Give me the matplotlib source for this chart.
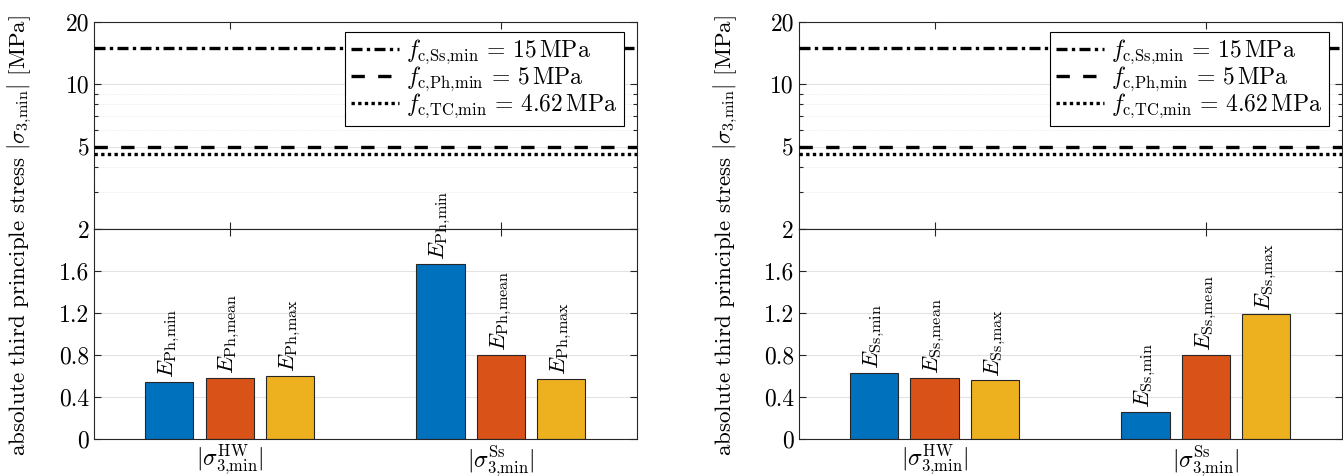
import matplotlib
matplotlib.use("Agg")
import matplotlib.pyplot as plt
from matplotlib.lines import Line2D

# bar groups (x tick labels)
group_labels = [r"$|\sigma_{3{,}\min}^{\mathrm{HW}}|$", r"$|\sigma_{3{,}\min}^{\mathrm{Ss}}|$"]

# left panel: Young's modulus of Ph varied
ph_min = [0.545, 1.67]
ph_mean = [0.585, 0.80]
ph_max = [0.60, 0.575]
ph_labels = [r"$E_{\mathrm{Ph{,}min}}$", r"$E_{\mathrm{Ph{,}mean}}$", r"$E_{\mathrm{Ph{,}max}}$"]

# right panel: Young's modulus of Ss varied
ss_min = [0.633, 0.26]
ss_mean = [0.585, 0.80]
ss_max = [0.56, 1.187]
ss_labels = [r"$E_{\mathrm{Ss{,}min}}$", r"$E_{\mathrm{Ss{,}mean}}$", r"$E_{\mathrm{Ss{,}max}}$"]

# strength limits shown in the upper (log) part
limit_values = [15, 5, 4.62]
limit_labels = [
    r"$f_{\mathrm{c{,}Ss{,}min}}\,=\,15\,\mathrm{MPa}$",
    r"$f_{\mathrm{c{,}Ph{,}min}}\,=\,5\,\mathrm{MPa}$",
    r"$f_{\mathrm{c{,}TC{,}min}}\,=\,4.62\,\mathrm{MPa}$",
]
limit_styles = [(0, (3.3, 1.3, 1.0, 1.3)), (0, (4, 4)), (0, (1, 1))]

lo_ticks = [0, 0.4, 0.8, 1.2, 1.6, 2]
lo_ticklabels = ["0", "0.4", "0.8", "1.2", "1.6", "2"]
hi_ticks = [2, 5, 10, 20]
hi_ticklabels = ["", "5", "10", "20"]

COLORS = ["#0072BD", "#D95319", "#EDB120"]
DARK = "#262626"
YLABEL = r"absolute third principle stress $|\sigma_{3{,}\min}|$ [MPa]"

plt.rcParams["font.family"] = "serif"
plt.rcParams["font.serif"] = ["cmr10"]
plt.rcParams["mathtext.fontset"] = "cm"
plt.rcParams["axes.unicode_minus"] = False
plt.rcParams["axes.formatter.use_mathtext"] = True


def style_axes(ax):
    for spine in ax.spines.values():
        spine.set_color(DARK)
        spine.set_linewidth(0.8)
    ax.tick_params(which="both", direction="in", top=True, right=True,
                   colors=DARK, labelcolor="black", labelsize=17, width=0.8)
    ax.tick_params(which="major", length=5)
    ax.tick_params(which="minor", length=3)
    ax.set_axisbelow(True)


def draw_panel(fig, left, series, labels, ylabel_x):
    ax_hi = fig.add_axes([left, 0.519, 0.404, 0.435])
    ax_lo = fig.add_axes([left, 0.0777, 0.404, 0.4412])
    ax_lo.set_zorder(3)

    n = len(series)
    step = 0.667 / n
    width = step * 0.8
    centers = [1, 2]

    for i, (vals, lab, col) in enumerate(zip(series, labels, COLORS)):
        xs = [c + (i - (n - 1) / 2) * step for c in centers]
        ax_lo.bar(xs, vals, width=width, color=col, edgecolor=DARK, linewidth=0.8, zorder=2)
        for x, v in zip(xs, vals):
            ax_lo.text(x, v + 0.035, lab, rotation=90, ha="center", va="bottom",
                       fontsize=16.5, clip_on=False, zorder=6)

    # lower, linear part
    ax_lo.set_xlim(0.5, 2.5)
    ax_lo.set_ylim(0, 2)
    ax_lo.set_yticks(lo_ticks, lo_ticklabels)
    ax_lo.set_xticks(centers, group_labels)
    ax_lo.yaxis.grid(True, color="#e3e3e3", linewidth=0.8)
    style_axes(ax_lo)
    ax_lo.tick_params(axis="x", pad=3)

    # upper, logarithmic part
    for val, lab, ls in zip(limit_values, limit_labels, limit_styles):
        ax_hi.axhline(val, color="black", linewidth=2.4, linestyle=ls, label=lab, zorder=3)
    ax_hi.set_yscale("log")
    ax_hi.set_xlim(0.5, 2.5)
    ax_hi.set_ylim(2, 20)
    ax_hi.set_yticks(hi_ticks, hi_ticklabels)
    ax_hi.set_yticks([3, 4, 6, 7, 8, 9], minor=True)
    ax_hi.yaxis.set_minor_formatter(plt.NullFormatter())
    ax_hi.set_xticks(centers, ["", ""])
    ax_hi.yaxis.grid(True, which="major", color="#e3e3e3", linewidth=0.8)
    ax_hi.yaxis.grid(True, which="minor", color="#e3e3e3", linewidth=0.6, linestyle=":")
    style_axes(ax_hi)

    handles = [Line2D([0], [0], color="black", linewidth=2.4, linestyle=ls) for ls in limit_styles]
    leg = ax_hi.legend(handles, limit_labels, loc="upper right", bbox_to_anchor=(0.976, 0.952),
                       borderaxespad=0, fontsize=17, frameon=True, fancybox=False, framealpha=1,
                       edgecolor="black", handlelength=2.05, handletextpad=0.3,
                       labelspacing=-0.08, borderpad=0.25)
    leg.get_frame().set_linewidth(0.8)

    fig.text(ylabel_x, 0.506, YLABEL, rotation=90, ha="center", va="center", fontsize=16.6)


fig = plt.figure(figsize=(13.43, 4.76), dpi=100)
draw_panel(fig, 0.070, [ph_min, ph_mean, ph_max], ph_labels, 0.0145)
draw_panel(fig, 0.5949, [ss_min, ss_mean, ss_max], ss_labels, 0.5405)

fig.savefig("out.png", dpi=100)
